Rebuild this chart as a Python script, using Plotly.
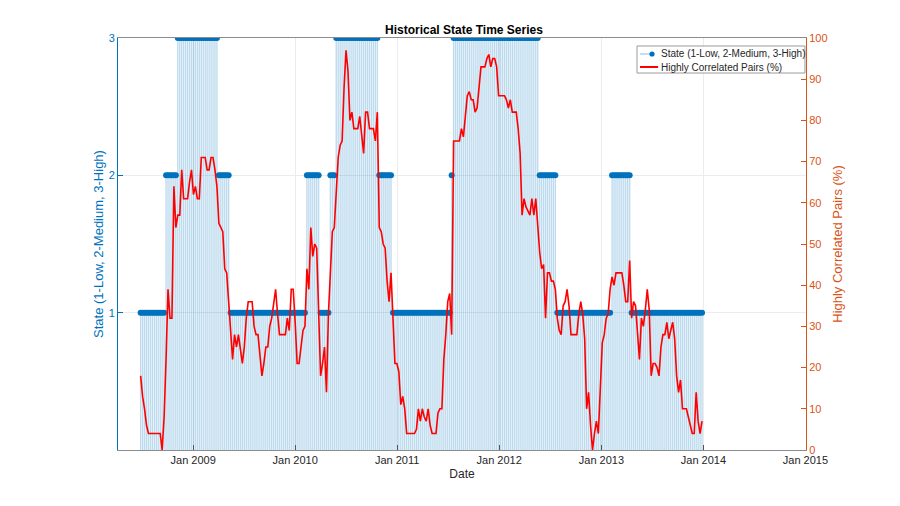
import pandas as pd
import plotly.graph_objects as go

# ---------------- data ----------------
START_DATE = "2008-06-27"   # first weekly observation
N_WEEKS = 288
dates = pd.date_range(START_DATE, periods=N_WEEKS, freq="7D")

state = [
    1,1,1,1,1,1,1,1,1,1,1,1,1,2,2,2,
    2,2,2,3,3,3,3,3,3,3,3,3,3,3,3,3,
    3,3,3,3,3,3,3,3,2,2,2,2,2,2,1,1,
    1,1,1,1,1,1,1,1,1,1,1,1,1,1,1,1,
    1,1,1,1,1,1,1,1,1,1,1,1,1,1,1,1,
    1,1,1,1,1,2,2,2,2,2,2,2,1,1,1,1,
    1,2,2,2,3,3,3,3,3,3,3,3,3,3,3,3,
    3,3,3,3,3,3,3,3,3,3,2,2,2,2,2,2,
    2,1,1,1,1,1,1,1,1,1,1,1,1,1,1,1,
    1,1,1,1,1,1,1,1,1,1,1,1,1,1,1,2,
    3,3,3,3,3,3,3,3,3,3,3,3,3,3,3,3,
    3,3,3,3,3,3,3,3,3,3,3,3,3,3,3,3,
    3,3,3,3,3,3,3,3,3,3,3,3,2,2,2,2,
    2,2,2,2,2,1,1,1,1,1,1,1,1,1,1,1,
    1,1,1,1,1,1,1,1,1,1,1,1,1,1,1,1,
    1,2,2,2,2,2,2,2,2,2,2,1,1,1,1,1,
    1,1,1,1,1,1,1,1,1,1,1,1,1,1,1,1,
    1,1,1,1,1,1,1,1,1,1,1,1,1,1,1,1,
]

corr_pct = [
    18,13,10,6,4,4,4,4,4,4,4,0,8,22,39,32,
    32,64,54,57,57,68,61,61,61,65,68,62,64,61,61,71,
    71,71,68,68,71,71,68,64,55,54,53,44,43,36,29,22,
    28,25,28,25,21,25,32,36,36,36,30,28,28,22,18,21,
    25,25,30,32,36,39,33,28,28,28,28,32,29,39,39,31,
    21,21,25,29,30,44,39,54,47,50,49,35,18,21,25,14,
    33,43,53,54,62,71,74,75,88,97,92,80,82,78,78,78,
    81,77,72,82,82,78,78,78,75,82,54,53,50,49,41,36,
    43,30,21,21,19,11,13,10,4,4,4,4,4,5,10,7,
    10,8,7,10,6,4,4,4,9,10,10,22,28,36,38,28,
    75,75,75,75,78,76,81,86,87,85,85,82,83,89,93,93,
    93,95,96,93,95,95,93,86,86,86,86,85,83,85,82,82,
    82,78,72,57,61,59,58,57,61,57,61,54,48,44,45,32,
    43,43,41,41,39,32,29,28,35,36,39,35,28,28,28,28,
    33,36,33,27,10,14,6,0,4,7,4,17,26,28,32,33,
    39,42,40,43,43,43,43,40,36,36,46,32,36,35,28,22,
    32,30,34,39,34,18,21,21,20,18,25,28,28,31,27,29,
    31,27,18,14,17,10,10,10,8,6,4,4,14,7,4,7,
]

x_tick_dates = ["2009-01-01", "2010-01-01", "2011-01-01", "2012-01-01",
                "2013-01-01", "2014-01-01", "2015-01-01"]
x_tick_labels = ["Jan 2009", "Jan 2010", "Jan 2011", "Jan 2012",
                 "Jan 2013", "Jan 2014", "Jan 2015"]
state_ticks = [1, 2, 3]
corr_ticks = [0, 10, 20, 30, 40, 50, 60, 70, 80, 90, 100]

legend_labels = ["State (1-Low, 2-Medium, 3-High)", "Highly Correlated Pairs (%)"]

# ---------------- styling ----------------
BLUE = "#0072BD"
ORANGE = "#D95319"
RED = "#FF0000"
FONT = "Liberation Sans, Arial, sans-serif"

# stems
sx, sy = [], []
for d, s in zip(dates, state):
    sx += [d, d, None]
    sy += [0, s, None]

fig = go.Figure()
fig.add_trace(go.Scatter(x=sx, y=sy, mode="lines",
                         line=dict(color="rgba(0,114,189,0.26)", width=1.4),
                         hoverinfo="skip", showlegend=False, yaxis="y"))
fig.add_trace(go.Scatter(x=dates, y=state, mode="markers",
                         marker=dict(color=BLUE, size=6),
                         name=legend_labels[0],
                         showlegend=False, yaxis="y"))
fig.add_trace(go.Scatter(x=dates, y=corr_pct, mode="lines",
                         name=legend_labels[1], showlegend=False,
                         line=dict(color=RED, width=1.6), yaxis="y2"))

# ---- custom legend (paper coordinates of the plot area) ----
lx0, lx1 = 0.7544, 0.9985
ly0, ly1 = 0.915, 0.9806
row_y = [0.9612, 0.9296]
shapes = [
    dict(type="rect", xref="paper", yref="paper", x0=lx0, x1=lx1, y0=ly0, y1=ly1,
         line=dict(color="#9a9a9a", width=1), fillcolor="white", layer="above"),
    dict(type="line", xref="paper", yref="paper", x0=0.7587, x1=0.7747,
         y0=row_y[0], y1=row_y[0], line=dict(color="rgba(0,114,189,0.45)", width=1),
         layer="above"),
    dict(type="circle", xref="paper", yref="paper", xsizemode="pixel",
         ysizemode="pixel", xanchor=0.7762, yanchor=row_y[0],
         x0=-2.6, x1=2.6, y0=-2.6, y1=2.6,
         line=dict(color=BLUE, width=0), fillcolor=BLUE, layer="above"),
    dict(type="line", xref="paper", yref="paper", x0=0.7587, x1=0.7850,
         y0=row_y[1], y1=row_y[1], line=dict(color=RED, width=2), layer="above"),
]
annotations = [
    dict(text=legend_labels[i], x=0.7864, y=row_y[i], xref="paper", yref="paper",
         xanchor="left", yanchor="middle", showarrow=False,
         font=dict(size=10, color="#262626", family=FONT))
    for i in range(2)
]
annotations.append(
    dict(text="<b>Historical State Time Series</b>",
         x=0.503, y=1, xref="paper", yref="paper",
         xanchor="center", yanchor="bottom", yshift=-1,
         showarrow=False, font=dict(size=12, color="#000000", family=FONT)))

fig.update_layout(
    width=900, height=506,
    margin=dict(l=110, r=102, t=30, b=64),
    paper_bgcolor="white", plot_bgcolor="white",
    font=dict(family=FONT, size=11, color="#262626"),
    showlegend=False,
    xaxis=dict(type="date", range=["2008-04-07", "2015-01-03"],
               tickvals=x_tick_dates, ticktext=x_tick_labels,
               ticks="inside", ticklen=5, tickcolor="#555555",
               showline=True, linecolor="#8c8c8c", linewidth=1, mirror=True,
               showgrid=True, gridcolor="#ececec", gridwidth=1,
               zeroline=False,
               tickfont=dict(size=11, color="#262626"),
               title=dict(text="Date", font=dict(size=12, color="#262626"),
                          standoff=4)),
    yaxis=dict(range=[0, 3], tickvals=state_ticks,
               ticks="inside", ticklen=5, tickcolor=BLUE,
               showline=True, linecolor=BLUE, linewidth=1,
               showgrid=True, gridcolor="#ececec", gridwidth=1,
               zeroline=False,
               tickfont=dict(size=11, color=BLUE),
               title=dict(text="State (1-Low, 2-Medium, 3-High)",
                          font=dict(size=13, color=BLUE), standoff=2)),
    yaxis2=dict(range=[0, 100], tickvals=corr_ticks, overlaying="y",
                side="right", anchor="x",
                ticks="inside", ticklen=5, tickcolor=ORANGE,
                showline=True, linecolor=ORANGE, linewidth=1,
                showgrid=False, zeroline=False,
                tickfont=dict(size=11, color=ORANGE),
                title=dict(text="Highly Correlated Pairs (%)",
                           font=dict(size=13, color=ORANGE), standoff=6)),
    shapes=shapes,
    annotations=annotations,
)

fig.write_html("out.html")
